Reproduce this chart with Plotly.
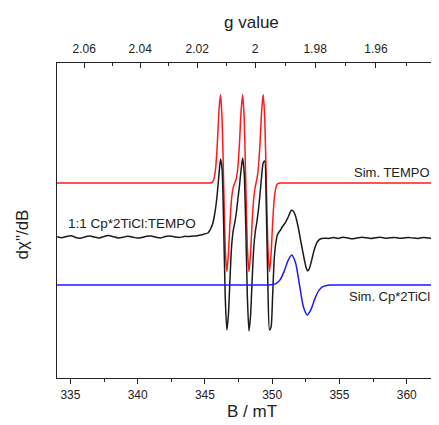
import plotly.graph_objects as go

# ---------------- data ----------------
# common field grid (mT) through the TEMPO triplet
grid_B = [345.215, 345.333, 345.450, 345.568, 345.685, 345.803, 345.920, 346.038,
          346.155, 346.273, 346.390, 346.508, 346.625, 346.743, 346.860, 346.978,
          347.095, 347.213, 347.330, 347.448, 347.565, 347.683, 347.800, 347.918,
          348.035, 348.153, 348.270, 348.388, 348.505, 348.623, 348.740, 348.858,
          348.975, 349.093, 349.210, 349.328, 349.445, 349.563, 349.680, 349.798,
          349.915, 350.033, 350.150, 350.268, 350.385, 350.503, 350.620, 350.738]

# Sim. TEMPO (red)
tempo_B = [334.0] + grid_B + [362.4]
tempo_sig = [0,
             0, 0, 0.2, 1.1, 4.9, 16.0, 39.5, 71.1, 88.5, 64.4, 0, -64.4,
             -88.5, -71.1, -39.5, -16.0, -4.7, 0, 4.7, 16.0, 39.5, 71.1, 88.5, 64.4,
             0, -64.4, -88.5, -71.1, -39.5, -15.8, -3.8, 3.8, 15.8, 39.5, 71.1, 88.5,
             64.4, 0, -64.4, -88.5, -71.1, -39.5, -16.0, -4.9, -1.1, -0.2, 0, 0,
             0]

# experimental 1:1 Cp*2TiCl:TEMPO (black)
exp_left_B = [334.0, 334.35, 334.7, 335.05, 335.4, 335.75, 336.1, 336.45, 336.8, 337.15,
              337.5, 337.85, 338.2, 338.55, 338.9, 339.25, 339.6, 339.95, 340.3, 340.65,
              341.0, 341.35, 341.7, 342.05, 342.4, 342.75, 343.1, 343.45, 343.8, 344.15,
              344.5, 344.85]
exp_left_sig = [0.3, -0.8, 0.5, 1.2, -0.4, -1.3, 0.2, 0.9, -0.2, -1.0,
                0.6, 1.4, 0.3, -0.9, -0.3, 0.8, 0.1, -1.1, -0.5, 0.7,
                1.0, -0.2, -0.9, 0.4, 0.9, 0.1, -0.4, 0.6, 0.6, 0.9,
                1.6, 2.6]
exp_mid_sig = [4, 6, 9, 13, 20, 30, 44, 62, 78, 68, 12, -60,
               -93, -78, -42, -10, 6, 14, 24, 38, 51, 67, 79, 64,
               10, -60, -94, -79, -44, -12, 5, 15, 27, 43, 60, 74,
               76, 28, -50, -93, -90, -58, -22, -6, 2, 5, 7, 10]
exp_ti_B = [350.96, 351.19, 351.41, 351.56, 351.71, 351.93, 352.15, 352.38,
            352.53, 352.64, 352.75, 352.90, 353.12, 353.35, 353.57, 353.87]
exp_ti_sig = [14, 20, 26.5, 26, 22, 10, -6, -22, -31, -34, -32, -25, -13, -5, -2, -1.2]
exp_right_B = [354.2, 354.55, 354.9, 355.25, 355.6, 355.95, 356.3, 356.65, 357.0, 357.35,
               357.7, 358.05, 358.4, 358.75, 359.1, 359.45, 359.8, 360.15, 360.5, 360.85,
               361.2, 361.55, 361.9, 362.25, 362.4]
exp_right_sig = [-1.5, -0.6, -1.4, -0.3, -0.9, -1.8, -1.0, -0.2, -0.8, -1.5,
                 -0.7, -0.3, -1.2, -0.8, -0.4, -1.3, -1.0, -0.5, -1.1, -1.4,
                 -0.6, -0.9, -1.2, -0.7, -0.8]

# Sim. Cp*2TiCl (blue)
ti_B = [334.0, 349.730, 350.018, 350.305, 350.593, 350.880, 351.168, 351.455, 351.743,
        352.030, 352.318, 352.605, 352.893, 353.180, 353.468, 353.755, 354.043, 354.330, 362.4]
ti_sig = [0, 0.07, 0.4, 1.7, 5.4, 13.4, 24.1, 30.0, 21.8,
          0, -21.8, -30.0, -24.1, -13.4, -5.4, -1.7, -0.4, -0.07, 0]

# vertical offsets of the stacked spectra
offset_tempo = 195
offset_exp = 141
offset_ti = 93

# axes ticks
B_ticks = [335, 340, 345, 350, 355, 360]
B_minor = [337.5, 342.5, 347.5, 352.5, 357.5]
g_labels = ["2.06", "2.04", "2.02", "2", "1.98", "1.96", "1.94"]
g_pos = [336.02, 340.18, 344.42, 348.73, 353.19, 357.71, 362.32]
g_minor = [338.10, 342.30, 346.57, 350.96, 355.45, 360.01]

# ---------------- figure ----------------
exp_B = exp_left_B + grid_B + exp_ti_B + exp_right_B
exp_sig = exp_left_sig + exp_mid_sig + exp_ti_sig + exp_right_sig

FONT = "Liberation Sans, Arial, sans-serif"
TXT = "#222222"

fig = go.Figure()
fig.add_trace(go.Scatter(x=tempo_B, y=[offset_tempo + v for v in tempo_sig], mode="lines",
                         line=dict(color="#ff1a1a", width=1.5, shape="spline", smoothing=0.6),
                         showlegend=False, hoverinfo="skip"))
fig.add_trace(go.Scatter(x=exp_B, y=[offset_exp + v for v in exp_sig], mode="lines",
                         line=dict(color="#1a1a1a", width=1.5, shape="spline", smoothing=0.6),
                         showlegend=False, hoverinfo="skip"))
fig.add_trace(go.Scatter(x=ti_B, y=[offset_ti + v for v in ti_sig], mode="lines",
                         line=dict(color="#1a1aff", width=1.5, shape="spline", smoothing=0.6),
                         showlegend=False, hoverinfo="skip"))
# invisible trace to carry the top g-value axis
fig.add_trace(go.Scatter(x=[334.0, 362.4], y=[0, 0], xaxis="x2", mode="lines",
                         line=dict(width=0), opacity=0, showlegend=False, hoverinfo="skip"))

axis_common = dict(range=[334.0, 362.4], showgrid=False, zeroline=False, showline=True,
                   linecolor="#222222", linewidth=1.2, tickcolor="#222222", tickwidth=1.2,
                   tickfont=dict(family=FONT, size=12, color=TXT))

# the page body adds an 8 px margin, so the figure is sized/placed to compensate
fig.update_layout(
    width=431, height=417,
    margin=dict(l=49, r=0, t=55, b=47),
    paper_bgcolor="white", plot_bgcolor="white",
    xaxis=dict(**axis_common, tickmode="array", tickvals=B_ticks,
               ticks="outside", ticklen=5,
               minor=dict(tickmode="array", tickvals=B_minor, ticks="outside",
                          ticklen=3, tickwidth=1.2, tickcolor="#222222")),
    xaxis2=dict(**axis_common, overlaying="x", side="top", anchor="y",
                tickmode="array", tickvals=g_pos, ticktext=g_labels,
                ticks="inside", ticklen=5, ticklabelstandoff=4,
                minor=dict(tickmode="array", tickvals=g_minor, ticks="inside",
                           ticklen=3, tickwidth=1.2, tickcolor="#222222")),
    yaxis=dict(range=[0, 315], showgrid=False, zeroline=False, showline=True,
               linecolor="#222222", linewidth=1.2, ticks="", showticklabels=False),
)

ann = []
ann.append(dict(text="g value", xref="paper", yref="paper", x=0.5097, y=1.128,
                showarrow=False, font=dict(family=FONT, size=17, color=TXT),
                xanchor="center", yanchor="middle"))
ann.append(dict(text="B / mT", xref="paper", yref="paper", x=0.5097, y=-0.107,
                showarrow=False, font=dict(family=FONT, size=17, color=TXT),
                xanchor="center", yanchor="middle"))
ann.append(dict(text="dχ\"/dB", xref="paper", yref="paper", x=-0.0903, y=0.454,
                showarrow=False, textangle=-90, font=dict(family=FONT, size=17, color=TXT),
                xanchor="center", yanchor="middle"))
ann.append(dict(text="1:1 Cp*2TiCl:TEMPO", xref="x", yref="y", x=334.68, y=154.5,
                showarrow=False, font=dict(family=FONT, size=13.5, color=TXT),
                xanchor="left", yanchor="middle"))
ann.append(dict(text="Sim. TEMPO", xref="x", yref="y", x=355.95, y=205.5,
                showarrow=False, font=dict(family=FONT, size=13, color=TXT),
                xanchor="left", yanchor="middle"))
ann.append(dict(text="Sim. Cp*2TiCl", xref="x", yref="y", x=355.55, y=81.5,
                showarrow=False, font=dict(family=FONT, size=13, color=TXT),
                xanchor="left", yanchor="middle"))
fig.update_layout(annotations=ann)

fig.write_html("out.html")
